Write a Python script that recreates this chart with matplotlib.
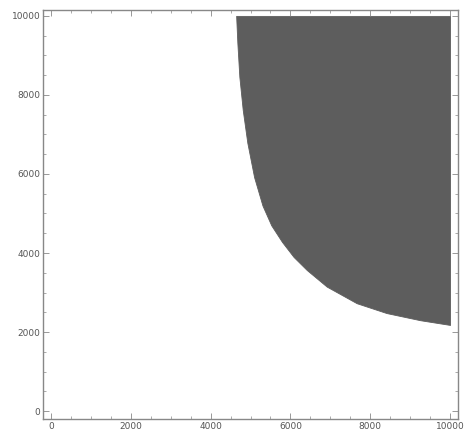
import numpy as np
import matplotlib
matplotlib.use("Agg")
import matplotlib.pyplot as plt
from matplotlib.ticker import MultipleLocator

# boundary of the shaded region
boundary_x = [4640, 4670, 4720, 4805, 4920, 5090, 5300, 5520, 5790, 6080,
              6410, 6910, 7660, 8410, 9250, 10000]
boundary_y = [10000, 9320, 8460, 7620, 6790, 5920, 5200, 4700, 4280, 3900,
              3570, 3150, 2730, 2480, 2300, 2180]
top_y = 10000
major_ticks = [0, 2000, 4000, 6000, 8000, 10000]

fig = plt.figure(figsize=(4.65, 4.37), dpi=100)
ax = fig.add_axes([0.0925, 0.0412, 0.8925, 0.936])

# shaded region between the boundary curve and the top of the range
ax.fill_between(boundary_x, boundary_y, top_y, color='#5d5d5d', linewidth=0.6,
                edgecolor='#5d5d5d')

ax.set_xlim(-200, 10200)
ax.set_ylim(-200, 10150)

ax.set_xticks(major_ticks)
ax.set_yticks(major_ticks)
ax.xaxis.set_minor_locator(MultipleLocator(500))
ax.yaxis.set_minor_locator(MultipleLocator(500))

ax.tick_params(which='both', direction='in', top=True, right=True,
               colors='#888888', labelcolor='#555555', labelsize=6.5, pad=2)
ax.tick_params(which='major', length=4, width=0.6)
ax.tick_params(which='minor', length=2, width=0.5)
ax.tick_params(labeltop=False, labelright=False)

for s in ax.spines.values():
    s.set_color('#888888')
    s.set_linewidth(1.0)

fig.savefig('out.png', dpi=100)
